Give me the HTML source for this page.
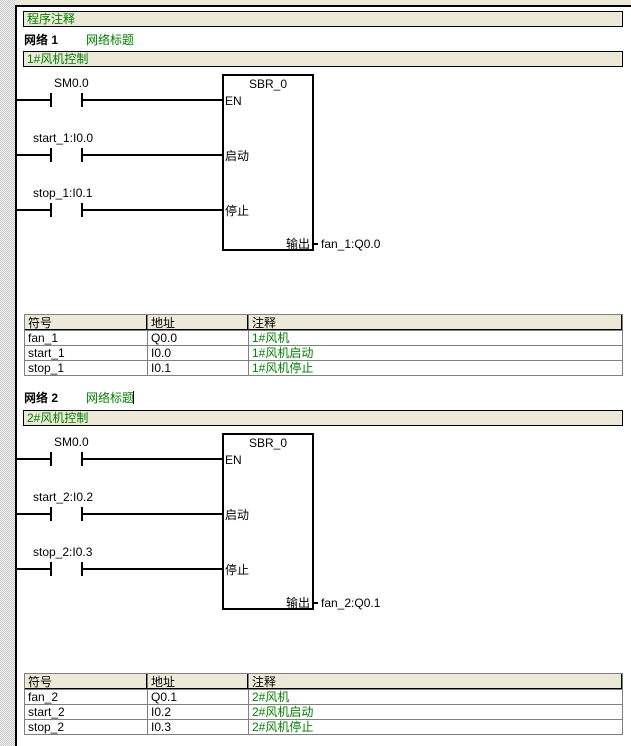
<!DOCTYPE html>
<html><head><meta charset="utf-8"><style>
html,body{margin:0;padding:0;background:#fff;width:631px;height:746px;overflow:hidden}
svg{display:block}
text{font-family:"Liberation Sans","Noto Sans CJK SC",sans-serif;font-size:12px}
</style></head><body>
<svg width="631" height="746" viewBox="0 0 631 746" xmlns="http://www.w3.org/2000/svg" shape-rendering="crispEdges">
<defs>
<pattern id="h" width="2" height="2" patternUnits="userSpaceOnUse"><rect width="2" height="2" fill="#f2f2f2"/><rect width="1" height="1" fill="#c8c8c8"/><rect x="1" y="1" width="1" height="1" fill="#c8c8c8"/></pattern>
<g id="net">
<rect x="23.5" y="51.5" width="599" height="15" fill="#ece9d8" stroke="#000"/>
<g stroke="#000" stroke-width="2">
<line x1="16" y1="100" x2="51" y2="100"/><line x1="82" y1="100" x2="222" y2="100"/>
<line x1="51" y1="93" x2="51" y2="107"/><line x1="82" y1="93" x2="82" y2="107"/>
<line x1="16" y1="155" x2="51" y2="155"/><line x1="82" y1="155" x2="222" y2="155"/>
<line x1="51" y1="148" x2="51" y2="162"/><line x1="82" y1="148" x2="82" y2="162"/>
<line x1="16" y1="210" x2="51" y2="210"/><line x1="82" y1="210" x2="222" y2="210"/>
<line x1="51" y1="203" x2="51" y2="217"/><line x1="82" y1="203" x2="82" y2="217"/>
<rect x="223" y="75" width="90" height="175" fill="none"/>
<line x1="314" y1="244" x2="318" y2="244"/>
</g>
<text x="268" y="88" text-anchor="middle">SBR_0</text>
<text x="225" y="105">EN</text>
<text x="225" y="160">启动</text>
<text x="225" y="215">停止</text>
<text x="286" y="248">输出</text>
<line x1="286" y1="249.5" x2="312" y2="249.5" stroke="#000"/>
<rect x="24" y="314" width="598" height="16" fill="#ece9d8"/>
<g stroke="#808080" fill="none">
<rect x="24.5" y="314.5" width="598" height="61"/>
<line x1="24" y1="330.5" x2="622" y2="330.5"/>
<line x1="24" y1="345.5" x2="622" y2="345.5"/>
<line x1="24" y1="360.5" x2="622" y2="360.5"/>
<line x1="147.5" y1="314" x2="147.5" y2="375"/>
<line x1="248.5" y1="314" x2="248.5" y2="375"/>
</g>
<g stroke="#000"><line x1="146.5" y1="315" x2="146.5" y2="330"/><line x1="247.5" y1="315" x2="247.5" y2="330"/><line x1="621.5" y1="315" x2="621.5" y2="330"/><line x1="25" y1="329.5" x2="622" y2="329.5"/></g>
<text x="28" y="327">符号</text><text x="151" y="327">地址</text><text x="252" y="327">注释</text>
</g>
</defs>
<rect x="0" y="0" width="15" height="746" fill="url(#h)"/>
<rect x="15" y="0" width="616" height="5" fill="#ece9d8"/>
<rect x="15" y="5" width="616" height="2" fill="#000"/>
<rect x="15" y="5" width="2" height="741" fill="#000"/>
<rect x="23.5" y="11.5" width="599" height="15" fill="#ece9d8" stroke="#000"/>
<text x="27" y="23" fill="#008000">程序注释</text>

<use href="#net"/>
<text x="24" y="44" font-weight="bold">网络 1</text>
<text x="86" y="44" fill="#008000">网络标题</text>
<text x="27" y="63" fill="#008000">1#风机控制</text>
<text x="54" y="87">SM0.0</text>
<text x="33" y="142">start_1:I0.0</text>
<text x="33" y="197">stop_1:I0.1</text>
<text x="321" y="248">fan_1:Q0.0</text>
<text x="28" y="342">fan_1</text><text x="151" y="342">Q0.0</text><text x="252" y="342" fill="#008000">1#风机</text>
<text x="28" y="357">start_1</text><text x="151" y="357">I0.0</text><text x="252" y="357" fill="#008000">1#风机启动</text>
<text x="28" y="372">stop_1</text><text x="151" y="372">I0.1</text><text x="252" y="372" fill="#008000">1#风机停止</text>

<use href="#net" y="359"/>
<text x="24" y="402" font-weight="bold">网络 2</text>
<text x="86" y="402" fill="#008000">网络标题</text>
<line x1="133.5" y1="391" x2="133.5" y2="404" stroke="#000"/>
<text x="27" y="422" fill="#008000">2#风机控制</text>
<text x="54" y="446">SM0.0</text>
<text x="33" y="501">start_2:I0.2</text>
<text x="33" y="556">stop_2:I0.3</text>
<text x="321" y="607">fan_2:Q0.1</text>
<text x="28" y="701">fan_2</text><text x="151" y="701">Q0.1</text><text x="252" y="701" fill="#008000">2#风机</text>
<text x="28" y="716">start_2</text><text x="151" y="716">I0.2</text><text x="252" y="716" fill="#008000">2#风机启动</text>
<text x="28" y="731">stop_2</text><text x="151" y="731">I0.3</text><text x="252" y="731" fill="#008000">2#风机停止</text>
</svg>
</body></html>
